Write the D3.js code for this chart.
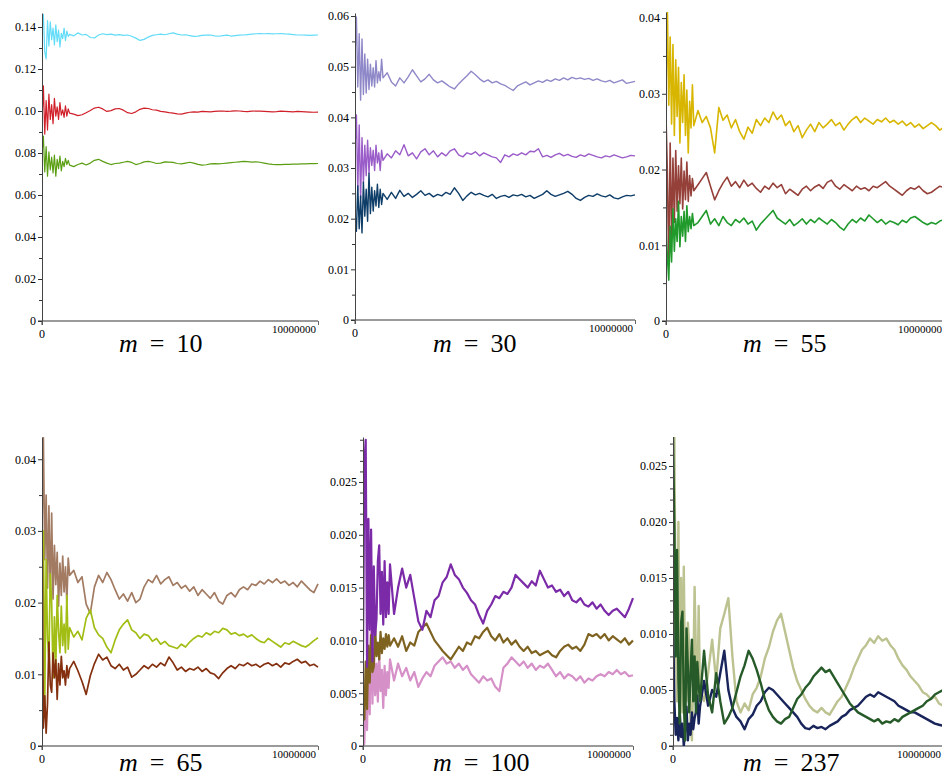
<!DOCTYPE html>
<html><head><meta charset="utf-8">
<script src="https://cdn.jsdelivr.net/npm/d3@7"></script>
<style>body{margin:0;background:#fff}svg{display:block}</style>
</head><body><svg id="c" width="942" height="778"></svg>
<script>
// x positions (in millions of steps) shared by all series
const X_GRID = [0,.05,.1,.15,.2,.25,.3,.35,.4,.45,.5,.55,.6,.65,.7,.75,.8,.85,.9,.95,1,
1.15,1.3,1.45,1.6,1.75,1.9,2.05,2.2,2.35,2.5,2.65,2.8,2.95,3.1,3.25,3.4,3.55,3.7,3.85,4,4.15,4.3,4.45,4.6,4.75,4.9,5.05,5.2,5.35,5.5,5.65,5.8,5.95,6.1,6.25,6.4,6.55,6.7,6.85,7,7.15,7.3,7.45,7.6,7.75,7.9,8.05,8.2,8.35,8.5,8.65,8.8,8.95,9.1,9.25,9.4,9.55,9.7,9.85,10];

// m = 10
const M10_CYAN = [.138,.146,.128,.1248,.143,.131,.1425,.134,.1395,.1315,.141,.133,.1385,.1305,.137,.1345,.1395,.1335,.138,.1355,.1365,
.1358,.1372,.1362,.1365,.1350,.1348,.1362,.1368,.1364,.1366,.1361,.1364,.1360,.1362,.1356,.1347,.1336,.1341,.1352,.1360,.1363,.1366,.1363,.1368,.1372,.1366,.1362,.1363,.1359,.1355,.1357,.1360,.1361,.1362,.1358,.1356,.1359,.1361,.1357,.1359,.1361,.1362,.1364,.1366,.1368,.1369,.1368,.1369,.1367,.1368,.1369,.1367,.1366,.1364,.1362,.1362,.1361,.1360,.1361,.1362];
const M10_RED = [.095,.112,.089,.105,.091,.108,.096,.103,.094,.106,.0975,.102,.096,.104,.098,.1005,.097,.1025,.0975,.101,.099,
.0985,.0978,.0982,.0992,.1002,.1014,.1018,.1010,.0998,.1002,.1010,.1012,.1004,.0992,.0988,.0996,.1008,.1014,.1012,.1006,.1004,.0998,.0996,.0992,.0990,.0986,.0985,.0990,.0994,.0996,.0995,.0998,.0997,.0996,.0998,.0999,.1000,.0998,.0999,.1001,.1000,.0998,.0997,.0999,.1000,.0999,.0998,.0997,.0996,.0997,.0999,.0998,.0997,.0996,.0998,.0997,.0996,.0995,.0994,.0995];
const M10_GREEN = [.080,.088,.071,.083,.069,.0805,.072,.078,.0705,.079,.069,.077,.0725,.0785,.0715,.076,.0735,.0775,.0745,.0765,.0742,
.0735,.0745,.0752,.0743,.0752,.0765,.0770,.0760,.0752,.0745,.0750,.0752,.0756,.0760,.0755,.0745,.0750,.0758,.0760,.0756,.0750,.0752,.0758,.0757,.0755,.0750,.0748,.0752,.0756,.0752,.0746,.0742,.0744,.0748,.0749,.0748,.0750,.0752,.0754,.0756,.0758,.0760,.0759,.0757,.0758,.0756,.0752,.0748,.0746,.0745,.0745,.0746,.0746,.0747,.0747,.0748,.0748,.0749,.0749,.0750];

// m = 30
const M30_LAVENDER = [.052,.0598,.046,.0565,.0434,.0555,.0445,.0525,.0448,.0515,.0455,.0505,.0462,.0498,.046,.0512,.0468,.049,.0472,.0515,.0478,
.0488,.0470,.0462,.0478,.0468,.0480,.0494,.0482,.0470,.0476,.0485,.0474,.0468,.0472,.0466,.0460,.0456,.0466,.0474,.0482,.0491,.0484,.0476,.0470,.0474,.0468,.0471,.0466,.0463,.0458,.0453,.0462,.0466,.0470,.0464,.0468,.0472,.0469,.0474,.0471,.0476,.0473,.0478,.0474,.0479,.0476,.0478,.0475,.0477,.0473,.0476,.0472,.0470,.0473,.0468,.0471,.0474,.0467,.0469,.0471];
const M30_VIOLET = [.034,.0405,.0255,.0385,.024,.036,.027,.0345,.0285,.0355,.029,.034,.0305,.0335,.0295,.0345,.031,.033,.0295,.0335,.0315,
.0328,.0320,.0334,.0326,.0346,.0324,.0330,.0318,.0332,.0338,.0326,.0334,.0322,.0330,.0324,.0334,.0338,.0326,.0322,.0330,.0327,.0332,.0324,.0330,.0326,.0322,.0320,.0311,.0326,.0322,.0328,.0325,.0330,.0326,.0333,.0332,.0338,.0322,.0325,.0321,.0326,.0329,.0324,.0327,.0323,.0321,.0326,.0323,.0328,.0325,.0322,.0320,.0324,.0322,.0326,.0323,.0320,.0322,.0325,.0324];
const M30_NAVY = [.021,.0175,.0265,.018,.0245,.0172,.0272,.0205,.0258,.0195,.029,.021,.0262,.0215,.0255,.0225,.0268,.0222,.0258,.0228,.025,
.0238,.0252,.0240,.0256,.0244,.0250,.0242,.0248,.0255,.0246,.0250,.0243,.0248,.0245,.0252,.0248,.0261,.0250,.0236,.0245,.0252,.0247,.0250,.0246,.0243,.0248,.0240,.0244,.0246,.0242,.0247,.0245,.0248,.0243,.0246,.0240,.0244,.0248,.0255,.0248,.0244,.0247,.0250,.0254,.0248,.0240,.0236,.0242,.0246,.0244,.0249,.0245,.0243,.0247,.0241,.0239,.0243,.0246,.0245,.0247];

// m = 55
const M55_GOLD = [.030,.041,.0285,.0375,.026,.0365,.0245,.0345,.027,.0335,.0235,.0315,.0262,.0325,.0245,.0305,.0222,.029,.0255,.0312,.0258,
.0278,.0262,.0270,.0255,.0222,.0282,.0265,.0272,.0255,.0266,.0250,.0240,.0256,.0248,.0266,.0258,.0268,.0262,.0276,.0266,.0272,.0258,.0264,.0250,.0258,.0242,.0252,.0260,.0250,.0262,.0255,.0260,.0266,.0258,.0262,.0252,.0260,.0266,.0270,.0262,.0268,.0264,.0260,.0266,.0263,.0268,.0262,.0265,.0260,.0264,.0258,.0262,.0256,.0260,.0254,.0258,.0262,.0258,.0252,.0256];
const M55_BROWN = [.027,.0195,.0072,.0235,.011,.0215,.013,.0225,.0145,.0205,.0155,.0215,.0148,.0198,.016,.021,.0158,.0192,.0165,.0188,.0172,
.0180,.0188,.0196,.0178,.0160,.0172,.0182,.0190,.0178,.0184,.0176,.0186,.0178,.0182,.0175,.0170,.0178,.0174,.0182,.0176,.0180,.0168,.0174,.0170,.0166,.0174,.0178,.0172,.0177,.0180,.0175,.0183,.0186,.0178,.0174,.0180,.0176,.0172,.0178,.0174,.0176,.0172,.0178,.0176,.0180,.0184,.0178,.0174,.0170,.0166,.0172,.0176,.0174,.0178,.0172,.0168,.0170,.0174,.0178,.0176];
const M55_GREEN = [.012,.0085,.0054,.0125,.0078,.0148,.0092,.0135,.0105,.0158,.0098,.0138,.0112,.0145,.0105,.0152,.0118,.0138,.0122,.0142,.0126,
.0130,.0138,.0146,.0128,.0135,.0126,.0138,.0130,.0126,.0134,.0130,.0136,.0128,.0132,.0120,.0128,.0134,.0140,.0146,.0136,.0132,.0128,.0134,.0126,.0130,.0135,.0128,.0134,.0130,.0136,.0132,.0128,.0134,.0130,.0124,.0120,.0128,.0134,.0130,.0136,.0132,.0140,.0135,.0130,.0134,.0128,.0132,.0130,.0127,.0133,.0130,.0136,.0138,.0134,.0130,.0127,.0130,.0128,.0132,.0134];

// m = 65
const M65_TAN = [.030,.043,.026,.035,.022,.0335,.021,.0325,.0205,.028,.0225,.027,.0195,.0255,.021,.0265,.0215,.025,.020,.0262,.0238,
.0245,.0228,.0236,.0198,.0185,.0222,.0238,.0228,.0242,.0232,.0218,.0205,.0212,.0202,.0214,.0200,.0205,.0222,.0232,.0228,.0238,.0226,.0232,.0236,.0224,.0228,.0220,.0224,.0216,.0222,.0210,.0218,.0212,.0206,.0214,.0202,.0198,.0210,.0214,.0208,.0218,.0222,.0218,.0226,.0224,.0230,.0226,.0232,.0228,.0233,.0227,.0230,.0224,.0228,.0222,.0230,.0224,.0218,.0214,.0226];
const M65_LIME = [.020,.030,.006,.026,.015,.012,.024,.020,.0095,.018,.011,.021,.016,.013,.0195,.014,.017,.013,.021,.0135,.0165,
.0152,.0160,.0148,.0178,.0190,.0165,.0155,.0150,.0138,.0130,.0148,.0162,.0170,.0176,.0162,.0158,.0150,.0156,.0154,.0146,.0150,.0142,.0146,.0140,.0138,.0136,.0142,.0138,.0145,.0150,.0154,.0152,.0158,.0155,.0160,.0158,.0164,.0162,.0156,.0158,.0154,.0156,.0152,.0155,.0150,.0146,.0144,.0150,.0146,.0142,.0138,.0144,.0142,.0146,.0143,.0140,.0138,.0142,.0147,.0151];
const M65_RUST = [.0325,.0025,.007,.0018,.006,.0145,.0085,.0075,.013,.0095,.012,.0065,.0115,.0085,.0125,.0095,.0105,.0085,.0112,.0095,.0108,
.0118,.0105,.0090,.0072,.0098,.0115,.0128,.0120,.0124,.0112,.0108,.0114,.0106,.0110,.0096,.0100,.0106,.0112,.0108,.0114,.0110,.0116,.0112,.0124,.0116,.0106,.0110,.0104,.0108,.0106,.0110,.0104,.0108,.0102,.0100,.0094,.0102,.0108,.0112,.0108,.0114,.0112,.0116,.0112,.0114,.0110,.0114,.0116,.0112,.0115,.0110,.0116,.0114,.0118,.0121,.0116,.0118,.0112,.0114,.0110];

// m = 100
const M100_PURPLE = [.0085,.0265,.029,.0075,.0215,.011,.0205,.008,.017,.0105,.012,.0175,.019,.0125,.0165,.0115,.0175,.0122,.0155,.0125,.0172,
.0125,.0150,.0168,.0150,.0162,.0140,.0118,.0110,.0128,.0122,.0138,.0142,.0155,.0160,.0172,.0162,.0158,.0150,.0145,.0138,.0134,.0124,.0116,.0128,.0134,.0142,.0140,.0146,.0144,.0150,.0162,.0158,.0154,.0150,.0156,.0152,.0166,.0158,.0150,.0152,.0146,.0148,.0142,.0146,.0138,.0136,.0140,.0134,.0132,.0136,.0130,.0134,.0128,.0124,.0128,.0130,.0126,.0122,.0130,.0140];
const M100_OLIVE = [.0045,.0025,.008,.0035,.0095,.006,.0105,.007,.0075,.0112,.0085,.0098,.0082,.0108,.0088,.0102,.0092,.0106,.0094,.0105,.0095,
.0102,.0094,.0104,.0090,.0098,.0095,.0108,.0112,.0116,.0108,.0100,.0095,.0090,.0086,.0082,.0088,.0094,.0090,.0098,.0096,.0104,.0102,.0108,.0112,.0104,.0100,.0106,.0098,.0102,.0096,.0100,.0094,.0090,.0094,.0088,.0090,.0086,.0088,.0090,.0086,.0084,.0090,.0094,.0096,.0092,.0094,.0090,.0096,.0106,.0104,.0106,.0102,.0106,.0100,.0104,.0101,.0098,.0102,.0096,.0100];
const M100_PINK = [.002,.0002,.0055,.0015,.0085,.003,.013,.004,.0092,.0048,.0078,.0042,.0088,.0052,.0072,.0036,.0076,.0048,.007,.0055,.0082,
.0062,.0078,.0066,.0074,.0062,.0070,.0056,.0064,.0070,.0066,.0076,.0080,.0084,.0078,.0080,.0074,.0078,.0072,.0076,.0068,.0064,.0060,.0066,.0062,.0064,.0056,.0052,.0074,.0078,.0084,.0080,.0076,.0080,.0074,.0078,.0072,.0076,.0074,.0078,.0072,.0066,.0070,.0064,.0068,.0066,.0062,.0066,.0060,.0064,.0062,.0066,.0068,.0066,.0070,.0068,.0072,.0068,.0070,.0066,.0067];

// m = 237
const M237_KHAKI = [.027,.0276,.010,.004,.020,.006,.015,.003,.016,.0055,.004,.011,.009,.002,.0005,.006,.0142,.008,.003,.0125,.005,
.0040,.0065,.0095,.0058,.0105,.0118,.0132,.0080,.0040,.0030,.0038,.0032,.0046,.0052,.0062,.0078,.0088,.0102,.0112,.0118,.0102,.0086,.0070,.0058,.0050,.0042,.0036,.0032,.0030,.0034,.0030,.0028,.0034,.0040,.0044,.0052,.0060,.0070,.0078,.0086,.0090,.0096,.0092,.0098,.0094,.0096,.0090,.0086,.0078,.0072,.0068,.0062,.0058,.0054,.0048,.0046,.0042,.0044,.0038,.0036];
const M237_NAVY = [.012,.004,.001,.0025,.0005,.003,.0008,.002,.0,.0015,.0035,.0005,.002,.001,.003,.0015,.0025,.003,.0045,.002,.0035,
.0058,.0036,.0050,.0044,.0065,.0085,.0050,.0034,.0026,.0022,.0015,.0024,.0028,.0036,.0040,.0048,.0052,.0050,.0046,.0042,.0038,.0034,.0030,.0026,.0020,.0016,.0015,.0018,.0016,.0017,.0015,.0018,.0020,.0022,.0026,.0028,.0032,.0034,.0036,.0040,.0044,.0046,.0044,.0048,.0046,.0044,.0042,.0040,.0036,.0034,.0032,.0030,.0030,.0028,.0026,.0024,.0022,.0020,.0019,.0018];
const M237_GREEN = [.0276,.0195,.008,.0175,.006,.002,.011,.012,.004,.0005,.0105,.007,.003,.0065,.0095,.004,.008,.003,.0075,.0055,.004,
.0085,.0045,.0030,.0065,.0040,.0020,.0026,.0034,.0048,.0062,.0072,.0085,.0078,.0068,.0056,.0042,.0032,.0026,.0022,.0020,.0024,.0026,.0034,.0042,.0046,.0052,.0056,.0062,.0066,.0070,.0066,.0068,.0062,.0056,.0050,.0044,.0038,.0034,.0030,.0028,.0026,.0024,.0022,.0024,.0020,.0022,.0021,.0024,.0022,.0026,.0028,.0030,.0032,.0034,.0036,.0040,.0042,.0046,.0048,.0050];

// tick values and labels
const M10_TICKS = [0,.02,.04,.06,.08,.10,.12,.14];
const M10_TICK_LABELS = ["0","0.02","0.04","0.06","0.08","0.10","0.12","0.14"];
const M30_TICKS = [0,.01,.02,.03,.04,.05,.06];
const M30_TICK_LABELS = ["0","0.01","0.02","0.03","0.04","0.05","0.06"];
const M55_TICKS = [0,.01,.02,.03,.04];
const M55_TICK_LABELS = ["0","0.01","0.02","0.03","0.04"];
const M65_TICKS = [0,.01,.02,.03,.04];
const M65_TICK_LABELS = ["0","0.01","0.02","0.03","0.04"];
const M100_TICKS = [0,.005,.010,.015,.020,.025];
const M100_TICK_LABELS = ["0","0.005","0.010","0.015","0.020","0.025"];
const M237_TICKS = [0,.005,.010,.015,.020,.025];
const M237_TICK_LABELS = ["0","0.005","0.010","0.015","0.020","0.025"];
const X_TICKS = [0,10];
const X_TICK_LABELS = ["0","10000000"];
const PANEL_M = ["10","30","55","65","100","237"];

const panels = [
 {m:PANEL_M[0], ax:42, x1:318, y0:321, yt:13, ymax:.14667, ticks:M10_TICKS, labels:M10_TICK_LABELS, minorStep:.01, lx:119, ly:352, sw:1.2,
  series:[[M10_CYAN,"#62dcf8"],[M10_RED,"#d0202a"],[M10_GREEN,"#5a9e12"]]},
 {m:PANEL_M[1], ax:355, x1:635, y0:320, yt:13, ymax:.0606, ticks:M30_TICKS, labels:M30_TICK_LABELS, minorStep:.005, lx:433, ly:352, sw:1.4,
  series:[[M30_LAVENDER,"#8e88c8"],[M30_VIOLET,"#9a5cc8"],[M30_NAVY,"#0e3d68"]]},
 {m:PANEL_M[2], ax:666, x1:944, y0:321, yt:12, ymax:.0408, ticks:M55_TICKS, labels:M55_TICK_LABELS, minorStep:.005, lx:743, ly:352, sw:1.6,
  series:[[M55_GOLD,"#d8b600"],[M55_BROWN,"#95413a"],[M55_GREEN,"#1f9a2b"]]},
 {m:PANEL_M[3], ax:42, x1:318, y0:746, yt:437, ymax:.0431, ticks:M65_TICKS, labels:M65_TICK_LABELS, minorStep:.005, lx:119, ly:771, sw:1.7,
  series:[[M65_TAN,"#a27b62"],[M65_LIME,"#a2be14"],[M65_RUST,"#84300f"]]},
 {m:PANEL_M[4], ax:363, x1:633, y0:746, yt:437, ymax:.02926, ticks:M100_TICKS, labels:M100_TICK_LABELS, minorStep:.001, lx:433, ly:771, sw:2.2,
  series:[[M100_PINK,"#d690c8"],[M100_OLIVE,"#7e6320"],[M100_PURPLE,"#7b2aa8"]]},
 {m:PANEL_M[5], ax:673, x1:943, y0:746, yt:437, ymax:.02759, ticks:M237_TICKS, labels:M237_TICK_LABELS, minorStep:.001, lx:743, ly:771, sw:2.4,
  series:[[M237_KHAKI,"#bcc290"],[M237_NAVY,"#18245a"],[M237_GREEN,"#265a28"]]}
];

const svg = d3.select("#c");
svg.append("rect").attr("width",942).attr("height",778).attr("fill","#fff");
const defs = svg.append("defs");

panels.forEach((p,pi)=>{
  const x = d3.scaleLinear().domain([0,10]).range([p.ax,p.x1]);
  const y = d3.scaleLinear().domain([0,p.ymax]).range([p.y0,p.yt]);
  const g = svg.append("g");

  defs.append("clipPath").attr("id","clip"+pi).append("rect")
    .attr("x",p.ax).attr("y",p.yt).attr("width",p.x1-p.ax+2).attr("height",p.y0-p.yt);

  // x axis
  const xa = g.append("g").attr("transform",`translate(0,${p.y0})`)
    .call(d3.axisBottom(x).tickValues(X_TICKS).tickSize(4).tickSizeOuter(0).tickFormat(""));
  xa.select(".domain").remove();
  xa.selectAll(".tick line").attr("stroke","#666");
  g.append("line").attr("x1",p.ax-4).attr("x2",p.x1).attr("y1",p.y0).attr("y2",p.y0)
    .attr("stroke","#9a9a9a").attr("stroke-width",2);
  g.append("text").attr("x",x(X_TICKS[0])).attr("y",p.y0+17).attr("text-anchor","middle")
    .attr("font-family","Liberation Serif").attr("font-size",12).attr("fill","#000").text(X_TICK_LABELS[0]);
  g.append("text").attr("x",x(X_TICKS[1])-2).attr("y",p.y0+12).attr("text-anchor","end")
    .attr("font-family","Liberation Serif").attr("font-size",11).attr("fill","#000").text(X_TICK_LABELS[1]);

  // series
  const line = d3.line().x((d,i)=>x(X_GRID[i])).y(d=>y(d));
  const sg = g.append("g").attr("clip-path",`url(#clip${pi})`);
  p.series.forEach(([vals,col])=>{
    sg.append("path").datum(vals).attr("d",line).attr("fill","none")
      .attr("stroke",col).attr("stroke-width",p.sw).attr("stroke-linejoin","round");
  });

  // y axis minor ticks
  const minor = d3.range(p.minorStep, p.ymax, p.minorStep).filter(v=>!p.ticks.some(t=>Math.abs(t-v)<1e-9));
  const ym = g.append("g").attr("transform",`translate(${p.ax},0)`)
    .call(d3.axisLeft(y).tickValues(minor).tickSize(3).tickSizeOuter(0).tickFormat(""));
  ym.select(".domain").remove();
  ym.selectAll(".tick line").attr("stroke","#333");
  // y axis major
  const ya = g.append("g").attr("transform",`translate(${p.ax},0)`)
    .call(d3.axisLeft(y).tickValues(p.ticks).tickSize(4).tickSizeOuter(0).tickPadding(2)
      .tickFormat((d,i)=>p.labels[i]));
  ya.select(".domain").attr("stroke","#444");
  ya.selectAll(".tick line").attr("stroke","#333");
  ya.selectAll(".tick text").attr("font-family","Liberation Serif").attr("font-size",12).attr("fill","#000");
  g.append("line").attr("x1",p.ax).attr("x2",p.ax).attr("y1",p.y0).attr("y2",p.y0+4).attr("stroke","#444");

  // panel label
  const t = svg.append("text").attr("x",p.lx).attr("y",p.ly)
    .attr("font-family","Liberation Serif").attr("font-size",26).attr("fill","#000");
  t.append("tspan").attr("font-style","italic").text("m");
  t.append("tspan").attr("dx",12).text("=");
  t.append("tspan").attr("dx",12).text(p.m);
});
</script></body></html>
